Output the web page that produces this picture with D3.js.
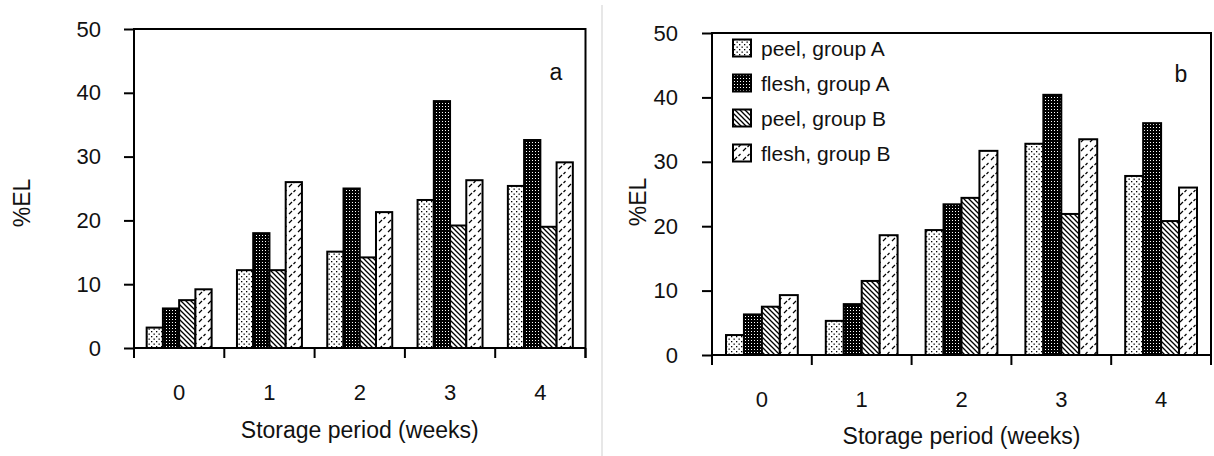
<!DOCTYPE html>
<html>
<head>
<meta charset="utf-8">
<script src="https://cdn.jsdelivr.net/npm/d3@7"></script>
<style>
  body { margin: 0; background: #fff; }
  svg { display: block; font-family: "Liberation Sans", Arial, sans-serif; }
</style>
</head>
<body>
<div id="chart"></div>
<script>
const W = 1214, H = 456;

// categories and series
const weeks = ["0", "1", "2", "3", "4"];
const seriesNames = ["peel, group A", "flesh, group A", "peel, group B", "flesh, group B"];
const yTicks = [0, 10, 20, 30, 40, 50];

// panel a values (%EL)
const aPeelA  = [3.2, 12.2, 15.1, 23.2, 25.4];
const aFleshA = [6.2, 18.0, 25.0, 38.7, 32.6];
const aPeelB  = [7.5, 12.2, 14.2, 19.2, 19.0];
const aFleshB = [9.2, 26.0, 21.3, 26.3, 29.1];

// panel b values (%EL)
const bPeelA  = [3.1, 5.3, 19.4, 32.8, 27.8];
const bFleshA = [6.3, 7.9, 23.4, 40.4, 36.0];
const bPeelB  = [7.5, 11.5, 24.4, 21.9, 20.8];
const bFleshB = [9.3, 18.6, 31.7, 33.5, 26.0];

const svg = d3.select("#chart").append("svg")
    .attr("width", W).attr("height", H);

// fill patterns for the 4 series
const defs = svg.append("defs");

let p = defs.append("pattern").attr("id", "pat0")
    .attr("patternUnits", "userSpaceOnUse").attr("width", 5).attr("height", 5);
p.append("rect").attr("width", 5).attr("height", 5).attr("fill", "#fff");
p.append("rect").attr("x", 1).attr("y", 1).attr("width", 1.3).attr("height", 1.3).attr("fill", "#000");
p.append("rect").attr("x", 3.5).attr("y", 3.5).attr("width", 1.3).attr("height", 1.3).attr("fill", "#000");

p = defs.append("pattern").attr("id", "pat1")
    .attr("patternUnits", "userSpaceOnUse").attr("width", 3).attr("height", 3);
p.append("rect").attr("width", 3).attr("height", 3).attr("fill", "#000");
p.append("rect").attr("x", 1).attr("y", 1).attr("width", 1).attr("height", 1).attr("fill", "#fff");

p = defs.append("pattern").attr("id", "pat2")
    .attr("patternUnits", "userSpaceOnUse").attr("width", 5).attr("height", 5);
p.append("rect").attr("width", 5).attr("height", 5).attr("fill", "#fff");
p.append("path").attr("d", "M0,0L5,5M-1,4L1,6M4,-1L6,1")
    .attr("stroke", "#000").attr("stroke-width", 1.3);

p = defs.append("pattern").attr("id", "pat3")
    .attr("patternUnits", "userSpaceOnUse").attr("width", 9).attr("height", 9);
p.append("rect").attr("width", 9).attr("height", 9).attr("fill", "#fff");
p.append("path").attr("d", "M1,7L4,4M5.5,3L7.5,1")
    .attr("stroke", "#000").attr("stroke-width", 1.2);

const fills = ["url(#pat0)", "url(#pat1)", "url(#pat2)", "url(#pat3)"];

function panel(cfg) {
    const g = svg.append("g");
    const x = d3.scaleBand(weeks, [cfg.left, cfg.right]);
    const xs = d3.scaleBand(d3.range(4), [0, x.bandwidth()]).paddingOuter(0.78);
    const y = d3.scaleLinear([0, 50], [cfg.bottom, cfg.top]);

    // bars
    g.append("g").selectAll("g")
        .data(cfg.series)
        .join("g")
        .attr("fill", (d, i) => fills[i])
        .selectAll("rect")
        .data((d, i) => d.map((v, j) => ({v: v, wk: weeks[j], s: i})))
        .join("rect")
        .attr("x", d => x(d.wk) + xs(d.s))
        .attr("y", d => y(d.v))
        .attr("width", xs.bandwidth())
        .attr("height", d => y(0) - y(d.v))
        .attr("stroke", "#000")
        .attr("stroke-width", 2);

    // y axis
    const ya = g.append("g")
        .attr("transform", `translate(${cfg.left},0)`)
        .call(d3.axisLeft(y).tickValues(yTicks).tickSize(10).tickPadding(cfg.yPad).tickSizeOuter(0));
    ya.select(".domain").remove();
    ya.selectAll("line").attr("stroke", "#000").attr("stroke-width", 2);
    ya.selectAll("text").attr("font-size", 22).attr("fill", "#111");

    // x axis labels
    const xa = g.append("g")
        .attr("transform", `translate(0,${cfg.bottom})`)
        .call(d3.axisBottom(x).tickSize(0).tickPadding(cfg.xPad));
    xa.select(".domain").remove();
    xa.selectAll("text").attr("font-size", 22).attr("fill", "#111");

    // boundary ticks below the x axis
    const edges = weeks.map(d => x(d)).concat([cfg.right]);
    g.append("g").selectAll("line")
        .data(edges)
        .join("line")
        .attr("x1", d => d).attr("x2", d => d)
        .attr("y1", cfg.bottom).attr("y2", cfg.bottom + 10)
        .attr("stroke", "#000").attr("stroke-width", 2);

    // frame
    g.append("path")
        .attr("d", `M${cfg.left},${cfg.bottom + 10}V${cfg.top}H${cfg.right}V${cfg.bottom + 10}M${cfg.left},${cfg.bottom}H${cfg.right}`)
        .attr("fill", "none").attr("stroke", "#000").attr("stroke-width", 2);

    // titles
    g.append("text")
        .attr("x", (cfg.left + cfg.right) / 2).attr("y", cfg.titleY)
        .attr("text-anchor", "middle").attr("font-size", 23).attr("fill", "#111")
        .text("Storage period (weeks)");
    g.append("text")
        .attr("transform", `translate(${cfg.ylabX},${cfg.ylabY}) rotate(-90)`)
        .attr("text-anchor", "middle").attr("dominant-baseline", "central")
        .attr("font-size", 23).attr("fill", "#111")
        .text("%EL");
    g.append("text")
        .attr("x", cfg.tagX).attr("y", cfg.tagY)
        .attr("text-anchor", "middle").attr("font-size", 23).attr("fill", "#111")
        .text(cfg.tag);
    return g;
}

panel({
    left: 134, right: 585.5, top: 29, bottom: 348,
    series: [aPeelA, aFleshA, aPeelB, aFleshB],
    yPad: 23, xPad: 36, titleY: 438, ylabX: 22, ylabY: 203,
    tag: "a", tagX: 556, tagY: 80
});

const pb = panel({
    left: 712, right: 1211, top: 33, bottom: 355,
    series: [bPeelA, bFleshA, bPeelB, bFleshB],
    yPad: 24, xPad: 36, titleY: 444, ylabX: 638, ylabY: 202,
    tag: "b", tagX: 1181, tagY: 82
});

// legend (panel b)
const leg = pb.append("g").selectAll("g")
    .data(seriesNames)
    .join("g")
    .attr("transform", (d, i) => `translate(733,${48 + i * 35})`);
leg.append("rect")
    .attr("x", 0).attr("y", -8.5).attr("width", 18).attr("height", 17)
    .attr("fill", (d, i) => fills[i])
    .attr("stroke", "#000").attr("stroke-width", 2);
leg.append("text")
    .attr("x", 28).attr("y", 0)
    .attr("dominant-baseline", "central")
    .attr("font-size", 21).attr("fill", "#111")
    .text(d => d);

// separator between panels
svg.append("line")
    .attr("x1", 602).attr("x2", 602).attr("y1", 5).attr("y2", H)
    .attr("stroke", "#cfcfcf").attr("stroke-width", 1);
</script>
</body>
</html>
